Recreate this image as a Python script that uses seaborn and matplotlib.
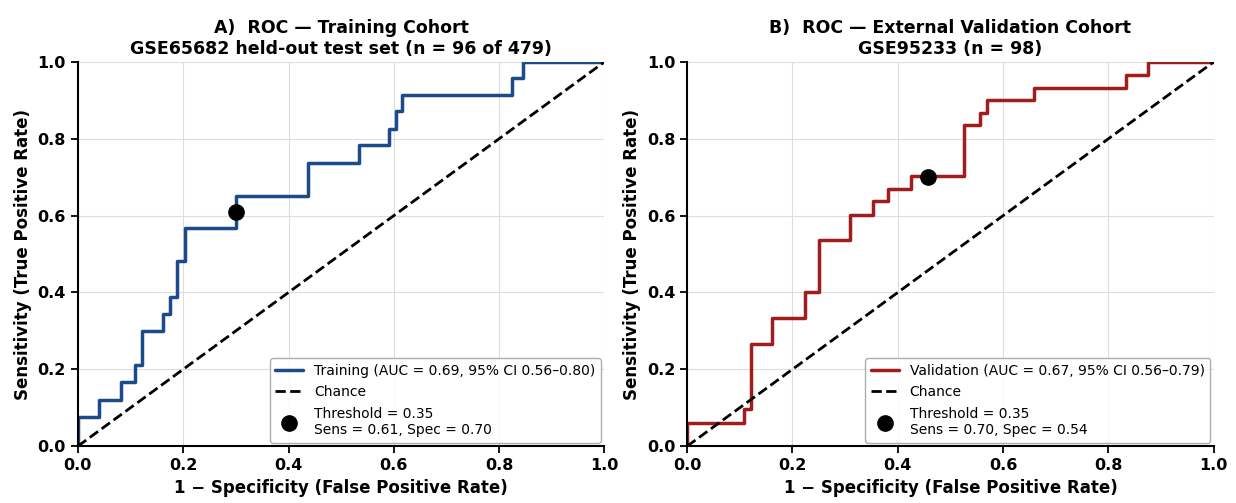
import numpy as np
import pandas as pd
import seaborn as sns
import matplotlib.pyplot as plt

# ROC step vertices (fpr where tpr rises, tpr level reached)
train_fpr = [0.0, 0.0, 0.040, 0.082, 0.109, 0.122, 0.162, 0.175, 0.189, 0.204, 0.300,
             0.437, 0.534, 0.591, 0.604, 0.615, 0.825, 0.845, 1.0]
train_tpr = [0.0, 0.076, 0.121, 0.166, 0.211, 0.299, 0.344, 0.389, 0.482, 0.567, 0.652,
             0.738, 0.783, 0.826, 0.871, 0.915, 0.958, 1.0, 1.0]

valid_fpr = [0.0, 0.0, 0.108, 0.121, 0.162, 0.223, 0.251, 0.309, 0.353, 0.381, 0.425,
             0.526, 0.557, 0.570, 0.658, 0.834, 0.876, 1.0]
valid_tpr = [0.0, 0.059, 0.096, 0.266, 0.334, 0.400, 0.537, 0.602, 0.637, 0.668, 0.702,
             0.835, 0.868, 0.900, 0.932, 0.967, 1.0, 1.0]

# operating points (fpr, sens)
train_thr = (0.300, 0.609)
valid_thr = (0.457, 0.700)

panels = [
    {
        "fpr": train_fpr, "tpr": train_tpr, "thr": train_thr,
        "color": "#1c4a8a",
        "label": "Training (AUC = 0.69, 95% CI 0.56–0.80)",
        "thr_label": "Threshold = 0.35\nSens = 0.61, Spec = 0.70",
        "title": "A)  ROC — Training Cohort\nGSE65682 held-out test set (n = 96 of 479)",
    },
    {
        "fpr": valid_fpr, "tpr": valid_tpr, "thr": valid_thr,
        "color": "#a11d1d",
        "label": "Validation (AUC = 0.67, 95% CI 0.56–0.79)",
        "thr_label": "Threshold = 0.35\nSens = 0.70, Spec = 0.54",
        "title": "B)  ROC — External Validation Cohort\nGSE95233 (n = 98)",
    },
]

sns.set_theme(style="whitegrid", rc={
    "axes.edgecolor": "black",
    "axes.linewidth": 1.5,
    "axes.labelcolor": "black",
    "text.color": "black",
    "grid.color": "#dddddd",
    "grid.linewidth": 0.8,
    "xtick.bottom": True,
    "ytick.left": True,
    "xtick.major.size": 5,
    "ytick.major.size": 5,
    "xtick.major.width": 1.3,
    "ytick.major.width": 1.3,
    "xtick.color": "black",
    "ytick.color": "black",
})
plt.rcParams["font.family"] = ["DejaVu Sans"]

fig, axes = plt.subplots(1, 2, figsize=(12.36, 5.03), dpi=100)
fig.subplots_adjust(left=0.063, right=0.982, top=0.877, bottom=0.113, wspace=0.157)

for ax, p in zip(axes, panels):
    df = pd.DataFrame({"fpr": p["fpr"], "tpr": p["tpr"]})
    sns.lineplot(data=df, x="fpr", y="tpr", ax=ax, sort=False, estimator=None,
                 color=p["color"], linewidth=2.5, drawstyle="steps-post", label=p["label"])
    sns.lineplot(x=[0, 1], y=[0, 1], ax=ax, color="black", linestyle="--",
                 linewidth=2, label="Chance")
    ax.plot(p["thr"][0], p["thr"][1], "o", color="black", markersize=11,
            zorder=5, label=p["thr_label"])

    ax.set_xlim(0, 1)
    ax.set_ylim(0, 1)
    ax.set_xticks(np.arange(0, 1.01, 0.2))
    ax.set_yticks(np.arange(0, 1.01, 0.2))
    ax.tick_params(labelsize=11.5)
    for lbl in ax.get_xticklabels() + ax.get_yticklabels():
        lbl.set_fontweight("bold")
    ax.set_xlabel("1 − Specificity (False Positive Rate)", fontsize=12, fontweight="bold")
    ax.set_ylabel("Sensitivity (True Positive Rate)", fontsize=12, fontweight="bold")
    ax.set_title(p["title"], fontsize=12.5, fontweight="bold")
    sns.despine(ax=ax)

    leg = ax.legend(loc="lower right", fontsize=10, frameon=True, borderaxespad=0.25,
                    labelspacing=0.55)
    leg.get_frame().set_edgecolor("#999999")

fig.savefig("out.png", dpi=100)
